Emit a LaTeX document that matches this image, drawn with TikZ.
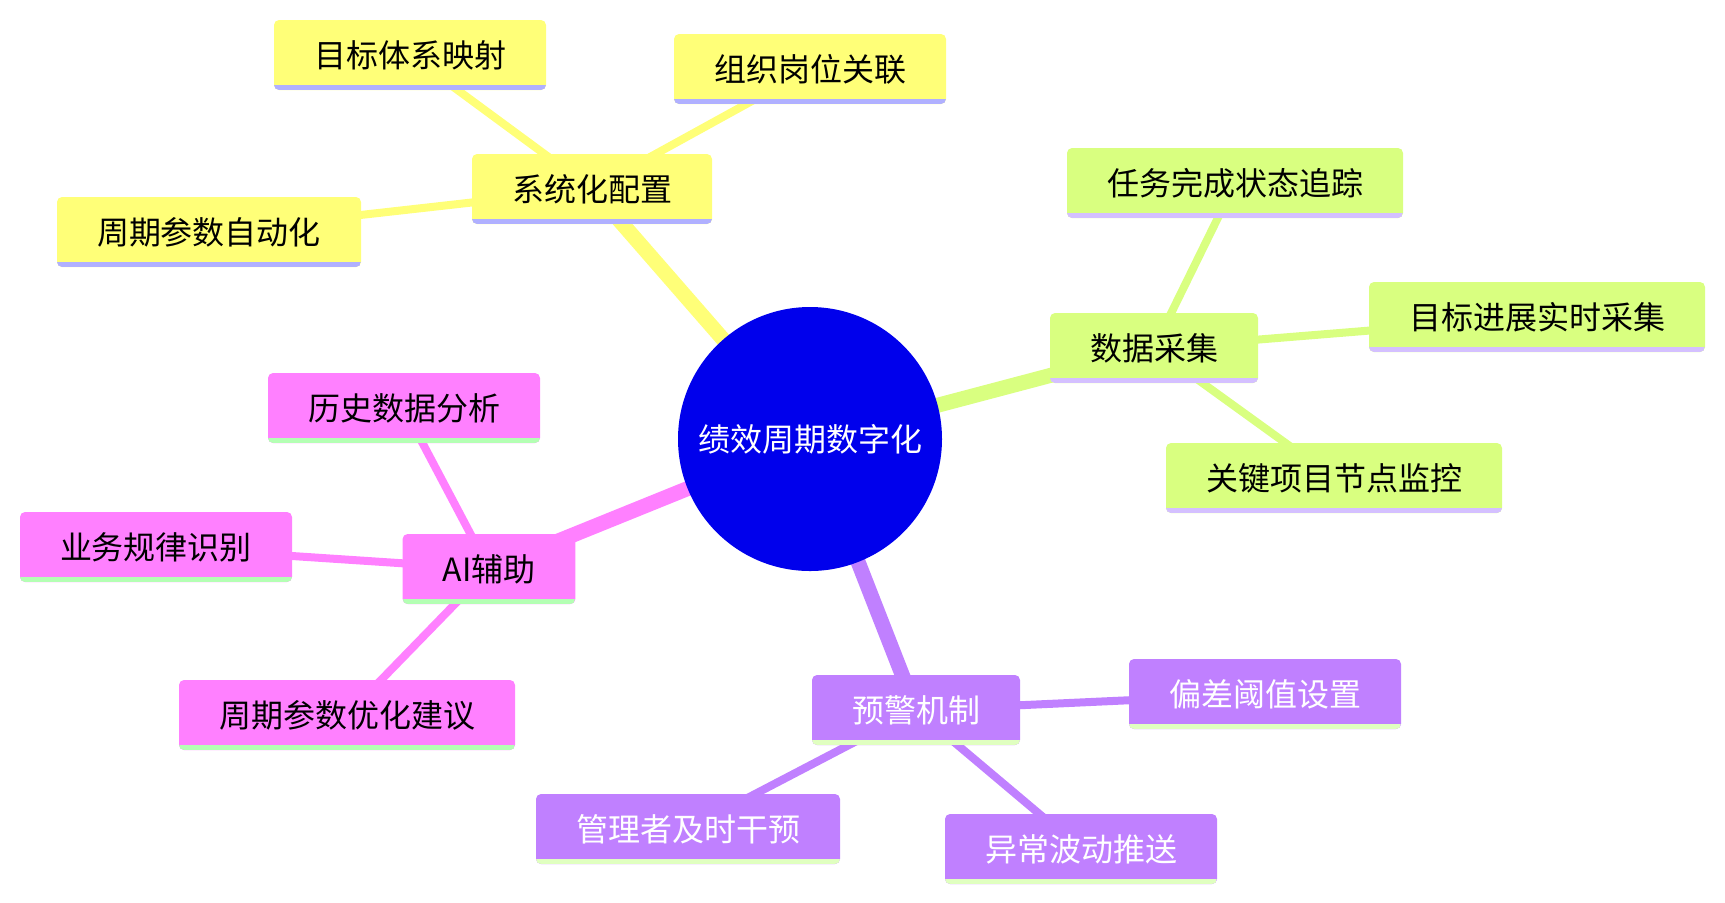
\documentclass[tikz,border=0pt]{standalone}
\usepackage{fontspec}
\setmainfont{Noto Sans CJK SC}
\usetikzlibrary{backgrounds}
\definecolor{rootblue}{RGB}{0,0,236}
\definecolor{sysfill}{RGB}{255,255,120}
\definecolor{sysline}{RGB}{176,176,255}
\definecolor{datafill}{RGB}{217,255,128}
\definecolor{dataline}{RGB}{212,192,255}
\definecolor{warnfill}{RGB}{192,128,255}
\definecolor{warnline}{RGB}{224,255,192}
\definecolor{aifill}{RGB}{255,128,255}
\definecolor{ailine}{RGB}{180,255,180}
\begin{document}
\begin{tikzpicture}[x=0.5pt,y=-0.5pt,font=\fontsize{16}{19}\selectfont,
	box/.style n args={2}{fill=#1, rounded corners=2.5pt, inner xsep=20pt, inner ysep=0pt, minimum height=35pt,
		path picture={\fill[#2, sharp corners] (path picture bounding box.south west) rectangle ([yshift=2.5pt]path picture bounding box.south east);}},
	trunk/.style={line width=7.5pt, draw=#1},
	twig/.style={line width=4pt, draw=#1}]
	\useasboundingbox (0,0) rectangle (1725,902);
	\node[circle, fill=rootblue, text=white, minimum size=132pt] (root) at (810,439) {绩效周期数字化};
	\node[box={sysfill}{sysline}] (sys) at (592,189) {系统化配置};
	\node[box={sysfill}{sysline}] (sysA) at (410,55) {目标体系映射};
	\node[box={sysfill}{sysline}] (sysB) at (810,69) {组织岗位关联};
	\node[box={sysfill}{sysline}] (sysC) at (209,232) {周期参数自动化};
	\node[box={datafill}{dataline}] (data) at (1154,348) {数据采集};
	\node[box={datafill}{dataline}] (dataA) at (1235,183) {任务完成状态追踪};
	\node[box={datafill}{dataline}] (dataB) at (1537,317) {目标进展实时采集};
	\node[box={datafill}{dataline}] (dataC) at (1334,478) {关键项目节点监控};
	\node[box={warnfill}{warnline}, text=white] (warn) at (916,710) {预警机制};
	\node[box={warnfill}{warnline}, text=white] (warnA) at (1265,694) {偏差阈值设置};
	\node[box={warnfill}{warnline}, text=white] (warnB) at (688,829) {管理者及时干预};
	\node[box={warnfill}{warnline}, text=white] (warnC) at (1081,849) {异常波动推送};
	\node[box={aifill}{ailine}] (ai) at (489,569) {AI辅助};
	\node[box={aifill}{ailine}] (aiA) at (404,408) {历史数据分析};
	\node[box={aifill}{ailine}] (aiB) at (156,547) {业务规律识别};
	\node[box={aifill}{ailine}] (aiC) at (347,715) {周期参数优化建议};
	\begin{scope}[on background layer]
		\draw[trunk=sysfill] (root.center) -- (sys.center);
		\draw[trunk=datafill] (root.center) -- (data.center);
		\draw[trunk=warnfill] (root.center) -- (warn.center);
		\draw[trunk=aifill] (root.center) -- (ai.center);
		\draw[twig=sysfill] (sys.center) -- (sysA.center);
		\draw[twig=sysfill] (sys.center) -- (sysB.center);
		\draw[twig=sysfill] (sys.center) -- (sysC.center);
		\draw[twig=datafill] (data.center) -- (dataA.center);
		\draw[twig=datafill] (data.center) -- (dataB.center);
		\draw[twig=datafill] (data.center) -- (dataC.center);
		\draw[twig=warnfill] (warn.center) -- (warnA.center);
		\draw[twig=warnfill] (warn.center) -- (warnB.center);
		\draw[twig=warnfill] (warn.center) -- (warnC.center);
		\draw[twig=aifill] (ai.center) -- (aiA.center);
		\draw[twig=aifill] (ai.center) -- (aiB.center);
		\draw[twig=aifill] (ai.center) -- (aiC.center);
	\end{scope}
\end{tikzpicture}
\end{document}
